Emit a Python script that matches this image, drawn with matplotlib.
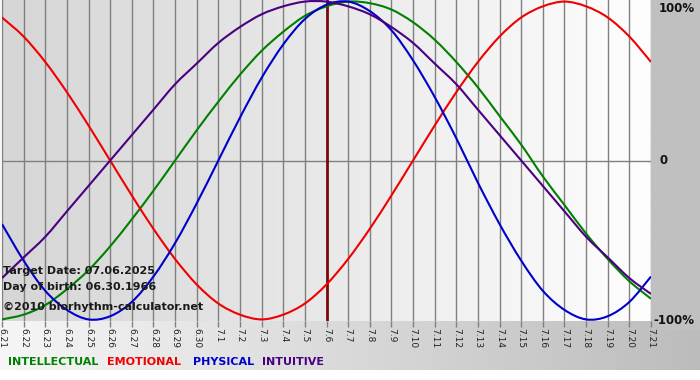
import numpy as np
import matplotlib
matplotlib.use("Agg")
import matplotlib.pyplot as plt
from matplotlib.colors import LinearSegmentedColormap
from matplotlib.path import Path
from matplotlib.patches import PathPatch

# day labels, 06.21 .. 07.21
dates = (["6.%d" % d for d in range(21, 31)] +
         ["7.%d" % d for d in range(1, 22)])

# cycle values (fraction of 100%)
physical = [-0.40, -0.63, -0.82, -0.94, -1.00, -0.98, -0.89, -0.73, -0.52, -0.27,
            0.00, 0.27, 0.52, 0.73, 0.89, 0.98, 1.00, 0.94, 0.82, 0.63,
            0.40, 0.14, -0.14, -0.40, -0.63, -0.82, -0.94, -1.00, -0.98, -0.89, -0.73]
emotional = [0.90, 0.78, 0.62, 0.43, 0.22, 0.00, -0.22, -0.43, -0.62, -0.78,
             -0.90, -0.97, -1.00, -0.97, -0.90, -0.78, -0.62, -0.43, -0.22, 0.00,
             0.22, 0.43, 0.62, 0.78, 0.90, 0.97, 1.00, 0.97, 0.90, 0.78, 0.62]
intellectual = [-1.00, -0.97, -0.91, -0.81, -0.69, -0.54, -0.37, -0.19, 0.00, 0.19,
                0.37, 0.54, 0.69, 0.81, 0.91, 0.97, 1.00, 0.99, 0.95, 0.87,
                0.76, 0.62, 0.46, 0.28, 0.10, -0.10, -0.28, -0.46, -0.62, -0.76, -0.87]
intuitive = [-0.74, -0.61, -0.48, -0.32, -0.16, 0.00, 0.16, 0.32, 0.48, 0.61,
             0.74, 0.84, 0.92, 0.97, 1.00, 1.00, 0.97, 0.92, 0.84, 0.74,
             0.61, 0.48, 0.32, 0.16, 0.00, -0.16, -0.32, -0.48, -0.61, -0.74, -0.84]

target_day = "7.6"

series = [("INTELLECTUAL", intellectual, "#008000"),
          ("EMOTIONAL", emotional, "#f00000"),
          ("PHYSICAL", physical, "#0000cc"),
          ("INTUITIVE", intuitive, "#4b0082")]


def smooth_path(xs, ys):
    # bezier path through the points (catmull-rom handles)
    pts = np.column_stack([xs, ys]).astype(float)
    ext = np.vstack([pts[0], pts, pts[-1]])
    verts = [pts[0]]
    codes = [Path.MOVETO]
    for i in range(len(pts) - 1):
        p0, p1, p2, p3 = ext[i], ext[i + 1], ext[i + 2], ext[i + 3]
        verts += [p1 + (p2 - p0) / 6, p2 - (p3 - p1) / 6, p2]
        codes += [Path.CURVE4] * 3
    return Path(verts, codes)


W, H = 700, 380
fig = plt.figure(figsize=(W / 100, H / 100), dpi=100)
fig.patch.set_facecolor("white")

# outer gradient background (light left -> gray right)
bg = fig.add_axes([0, 10 / H, 1, 1 - 10 / H])
bg.set_axis_off()
outer = LinearSegmentedColormap.from_list("outer", ["#f6f6f6", "#bcbcbc"])
bg.imshow(np.linspace(0, 1, 256)[None, :], cmap=outer, aspect="auto",
          extent=[0, 1, 0, 1])
bg.set_xlim(0, 1)
bg.set_ylim(0, 1)

# gray panel on the right
panel = fig.add_axes([651 / W, 1 - 330 / H, 1 - 651 / W, 330 / H])
panel.set_axis_off()
panel.add_patch(plt.Rectangle((0, 0), 1, 1, color="#c0c0c0",
                              transform=panel.transAxes))

ax = fig.add_axes([2 / W, 1 - 321 / H, 649 / W, 321 / H])
inner = LinearSegmentedColormap.from_list("inner", ["#d6d6d6", "#e9e9e9", "#fefefe"])
ax.imshow(np.linspace(0, 1, 256)[None, :], cmap=inner, aspect="auto",
          extent=[0, 1, 0, 1], transform=ax.transAxes, zorder=0)

x = np.arange(len(dates))
ax.set_xlim(0, len(dates) - 1)
ax.set_ylim(-1.01, 1.01)

for xi in x:
    ax.axvline(xi, color="#808080", lw=1, zorder=1)
ax.axhline(0, color="#808080", lw=1, zorder=1)
ax.axvline(dates.index(target_day), color="#7a0a0a", lw=2, zorder=2)

for name, vals, col in series:
    ax.add_patch(PathPatch(smooth_path(x, vals), fill=False, edgecolor=col,
                           lw=1.5, zorder=3))

ax.set_yticks([])
ax.set_xticks(x)
ax.set_xticklabels(dates, rotation=-90, fontsize=6.5, color="#222222")
ax.tick_params(axis="x", length=4, width=1, color="#808080", pad=1)
for s in ax.spines.values():
    s.set_visible(False)

txt = dict(fontsize=8, fontweight="bold", color="#1a1a1a", va="center", ha="left")
fig.text(3 / W, 1 - 271 / H, "Target Date: 07.06.2025", **txt)
fig.text(3 / W, 1 - 287 / H, "Day of birth: 06.30.1966", **txt)
fig.text(3 / W, 1 - 307 / H, "\u00a92010 biorhythm-calculator.net", **txt)

lab = dict(fontsize=8.5, fontweight="bold", color="#111111", va="center", ha="left")
fig.text(659 / W, 1 - 8 / H, "100%", **lab)
fig.text(659 / W, 1 - 161 / H, "0", **lab)
fig.text(653 / W, 1 - 321 / H, "-100%", **lab)

leg_x = [8, 107, 193, 262]
for (name, vals, col), lx in zip(series, leg_x):
    fig.text(lx / W, 1 - 362 / H, name, fontsize=8, fontweight="bold",
             color=col, va="center", ha="left")

fig.savefig("out.png", dpi=100)
